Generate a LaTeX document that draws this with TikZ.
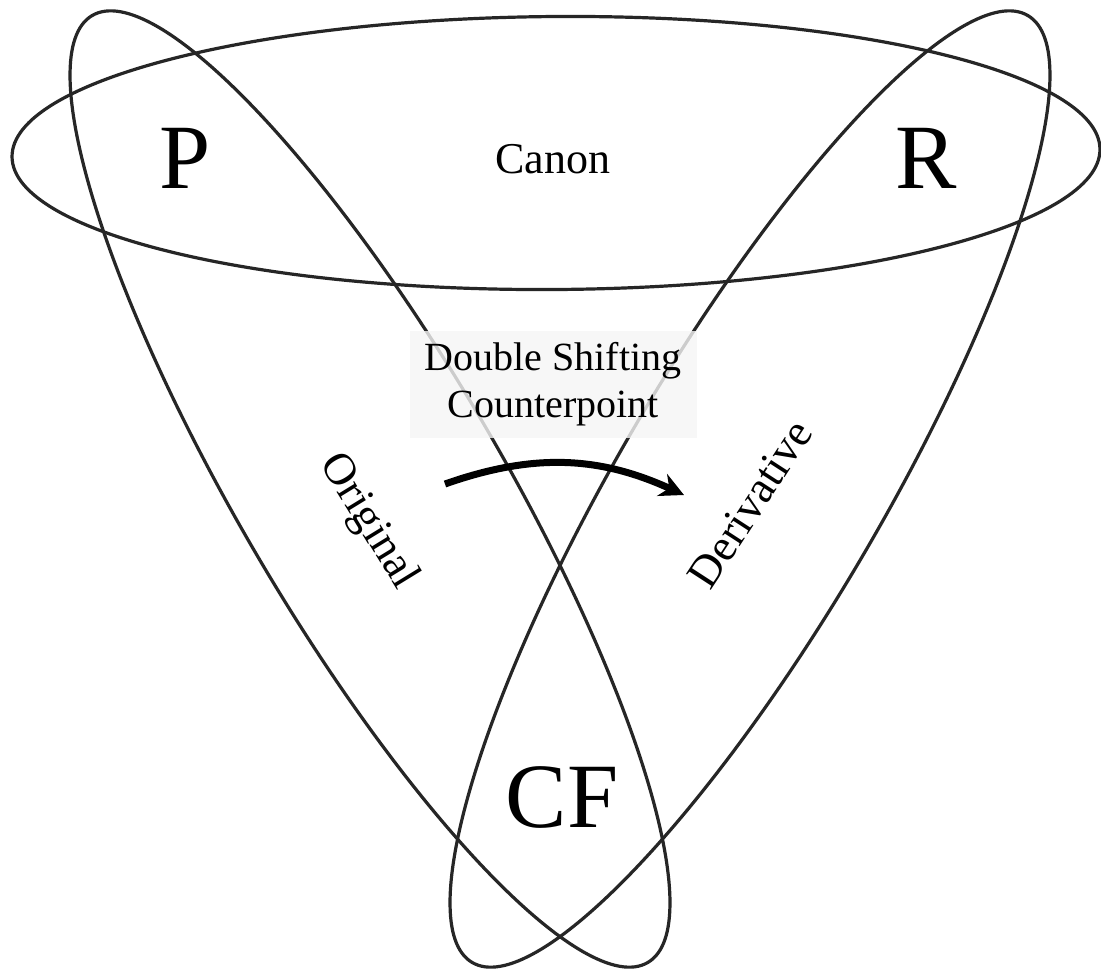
\documentclass[tikz,border=0pt]{standalone}
\usepackage{fontspec}
\setmainfont{Liberation Serif}
\usetikzlibrary{arrows.meta}
\begin{document}
\begin{tikzpicture}[x=1pt,y=-1pt,
  ring/.style={draw=black!85, line width=3.2pt},
  big/.style={font=\fontsize{92}{92}\selectfont, inner sep=0pt},
  mid/.style={font=\fontsize{40}{47}\selectfont, inner sep=0pt},
  slant/.style={font=\fontsize{45}{50}\selectfont, inner sep=0pt},
  bender/.style={line width=7pt, draw=black, -{Stealth[length=24pt,width=24pt]}},
]
\useasboundingbox (0,0) rectangle (1101,970);
\fill[white] (0,0) rectangle (1101,970);
\draw[ring, rotate around={0.4:(556,153)}] (556,153) ellipse [x radius=544, y radius=136.5];
\draw[ring, rotate around={59.6:(750,489)}] (750,489) ellipse [x radius=549, y radius=131];
\draw[ring, rotate around={120.4:(370,489)}] (370,489) ellipse [x radius=549, y radius=131];
\node[big] (P) at (185,158) {P};
\node[big] (R) at (926,158) {R};
\node[mid, font=\fontsize{44}{47}\selectfont] (canon) at (553,159) {Canon};
\node[big] (CF) at (562,797) {CF};
\node[mid, fill=gray!7, fill opacity=0.8, text opacity=1, minimum width=287pt, minimum height=107pt, align=center] (dsc) at (553,384) {Double Shifting\\Counterpoint};
\node[slant, rotate=-58.5] (orig) at (368,522) {Original};
\node[slant, rotate=57] (deriv) at (750,504) {Derivative};
\coordinate (as) at (445,484);
\coordinate (ae) at (684,495);
\draw[bender] (as) to[bend left=22] (ae);
\end{tikzpicture}
\end{document}
